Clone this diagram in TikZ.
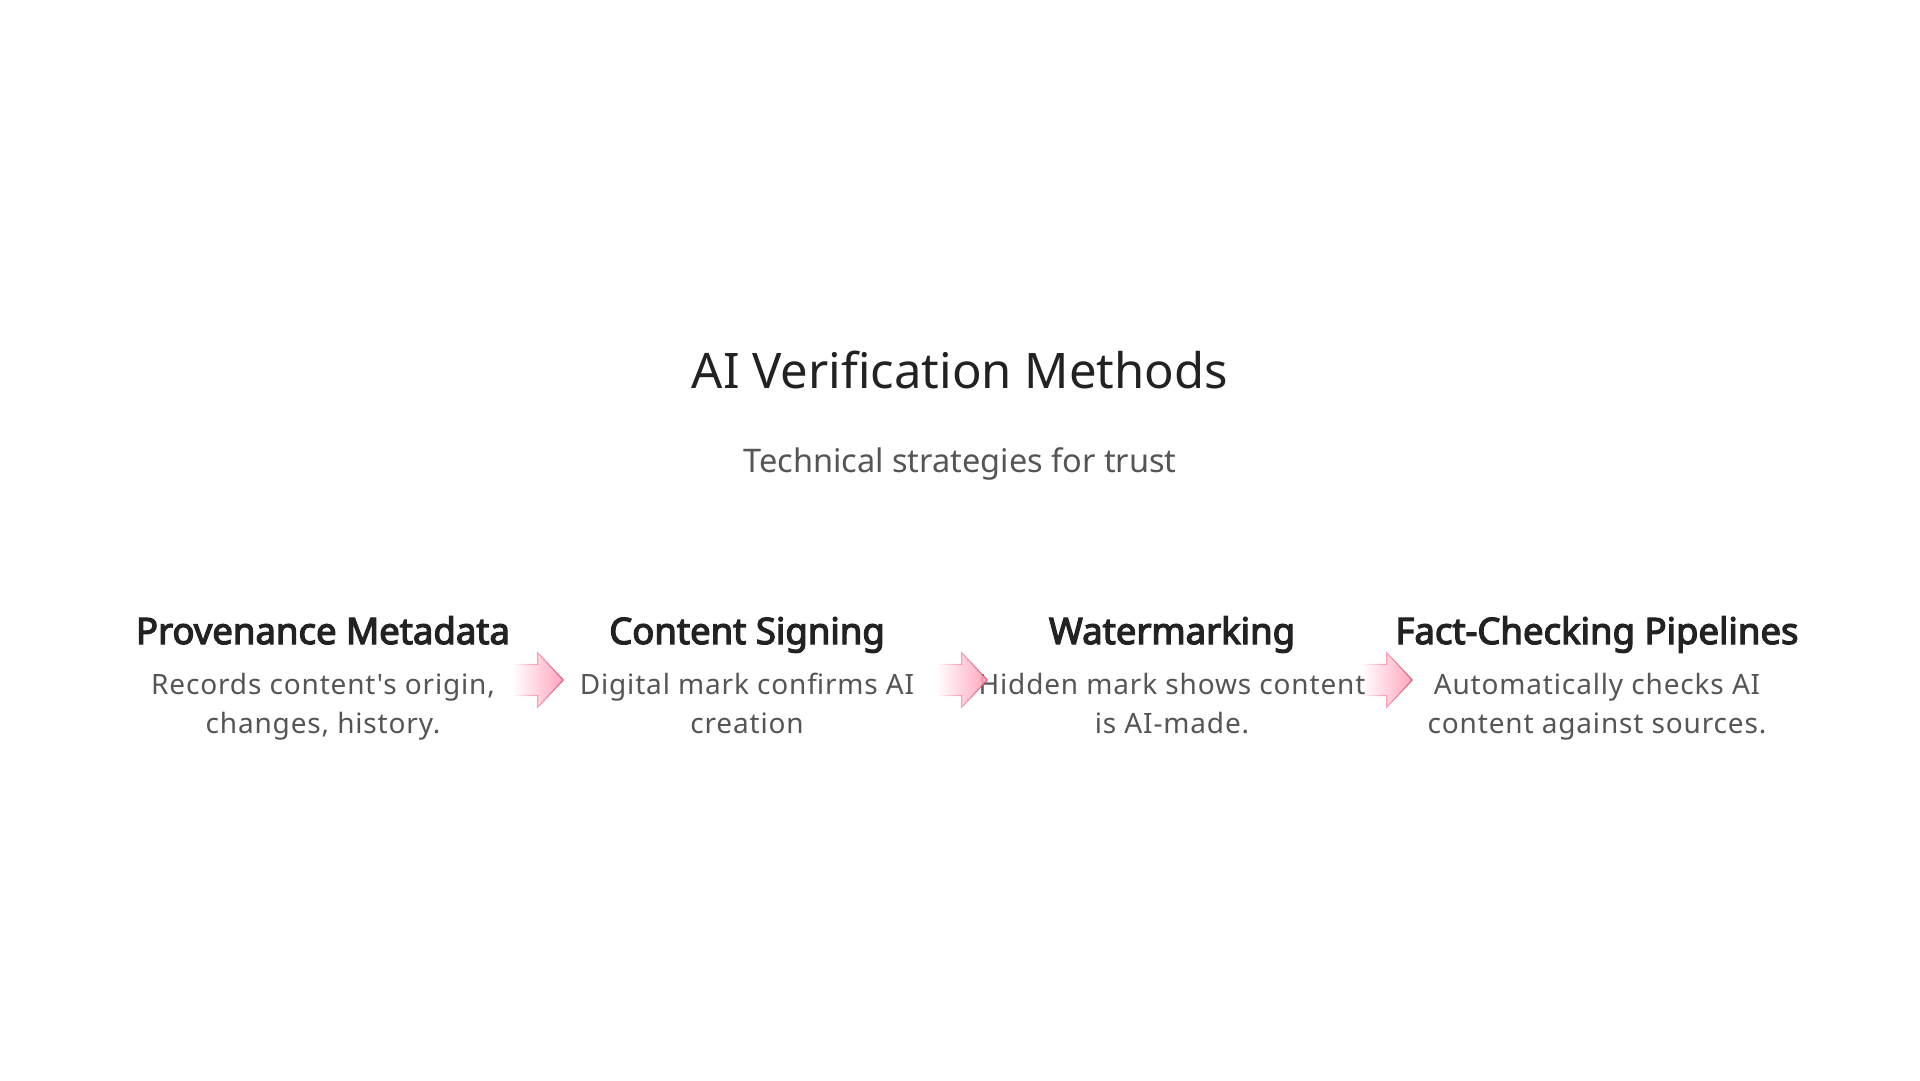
\documentclass[tikz,border=0pt]{standalone}
\usepackage{fontspec}
\setmainfont{Noto Sans}[AutoFakeBold=3.4]
\usetikzlibrary{positioning,shapes.arrows,fadings}

\definecolor{inkdark}{RGB}{34,34,34}
\definecolor{inkgray}{RGB}{85,85,85}
\definecolor{rosefill}{RGB}{255,165,188}
\definecolor{roseedge}{RGB}{244,72,112}

\tikzset{
  titletext/.style={inner sep=0pt, text=inkdark, font=\fontsize{49}{58}\selectfont},
  subtext/.style={inner sep=0pt, text=inkgray, font=\fontsize{32.5}{40}\selectfont},
  headtext/.style={inner sep=0pt, text=inkdark, font=\fontsize{36.5}{44}\selectfont\bfseries},
  desctext/.style={inner sep=0pt, text=inkgray, align=center,
    font=\fontsize{28}{39}\selectfont\addfontfeatures{LetterSpace=3,Ligatures=TeXOff}},
  flowarrow/.style={single arrow, minimum height=50pt, minimum width=54pt,
    inner sep=0pt, text height=30pt, single arrow head extend=12pt,
    single arrow tip angle=94, fill=rosefill, draw=roseedge, line width=1pt,
    path fading=west}
}

\begin{document}
\begin{tikzpicture}[x=1pt,y=-1pt]
\useasboundingbox (0,0) rectangle (1920,1080);
\node[titletext, anchor=base](title) at (960,388){AI Verification Methods};
\node[subtext, anchor=base](sub) at (960,472){Technical strategies for trust};
\node[headtext, anchor=base](prov) at (323,644){Provenance Metadata};
\node[headtext, anchor=base](sign) at (747,644){Content Signing};
\node[headtext, anchor=base](water) at (1172,644){Watermarking};
\node[headtext, anchor=base](fact) at (1597,644){Fact-Checking Pipelines};
\node[desctext, anchor=base](provtxt) at (323,733){Records content's origin,\\changes, history.};
\node[desctext, anchor=base](signtxt) at (747,733){Digital mark confirms AI\\creation};
\node[desctext, anchor=base](watertxt) at (1172,733){Hidden mark shows content\\is AI-made.};
\node[desctext, anchor=base](facttxt) at (1597,733){Automatically checks AI\\content against sources.};
\node[flowarrow](arr1) at (531,680){};
\node[flowarrow](arr2) at (955,680){};
\node[flowarrow](arr3) at (1380,680){};
\end{tikzpicture}
\end{document}
